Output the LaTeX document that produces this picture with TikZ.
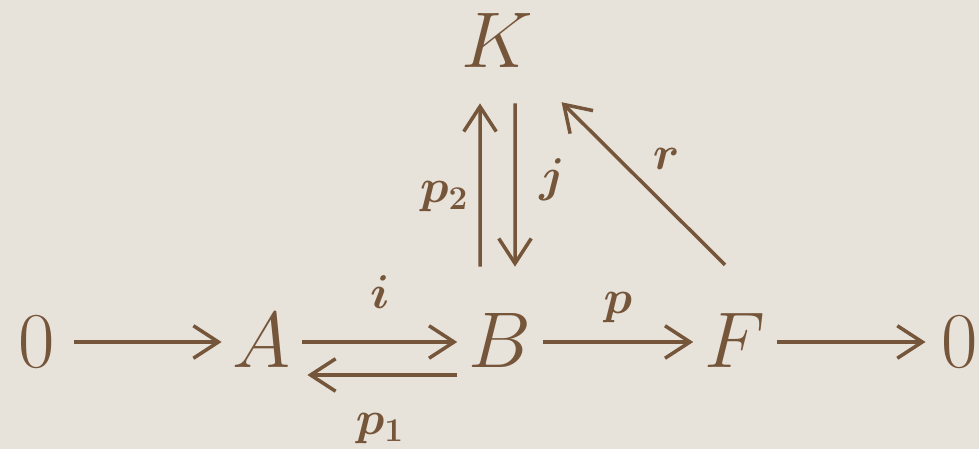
\documentclass[tikz,border=0pt]{standalone}
\usepackage{fix-cm}
\usepackage{bm}
\usetikzlibrary{arrows.meta}
\definecolor{paper}{HTML}{E7E2DA}
\definecolor{ink}{HTML}{76563A}
\begin{document}
\begin{tikzpicture}[
    obj/.style = {text=ink, font=\fontsize{45}{54}\selectfont, inner xsep=.22cm, inner ysep=.1cm, text height=1.3cm, text depth=.26cm},
    lbl/.style = {text=ink, font=\fontsize{27}{32}\selectfont, inner sep=0pt},
    arr/.style = {draw=ink, line width=2pt, -{Straight Barb[length=5mm,width=6.5mm]}}]
    \fill[paper] (0,0) rectangle (19.58,8.98);
    \useasboundingbox (0,0) rectangle (19.58,8.98);

    \node[obj] (zl) at (0.74,2.14) {$0$};
    \node[obj] (A) at (5.24,2.14) {$A$};
    \node[obj] (B) at (10.0,2.14) {$B$};
    \node[obj] (F) at (14.7,2.14) {$F$};
    \node[obj] (zr) at (19.2,2.14) {$0$};
    \node[obj] (K) at (9.94,8.14) {$K$};

    \draw[arr, shorten <=.15cm] (zl) -- (A);
    \draw[arr] (A) -- (B) node[lbl, midway, above=.64cm] {$\bm{i}$};
    \draw[arr, shorten >=.1cm] ([yshift=-.66cm]B.west) -- ([yshift=-.66cm]A.east)
        node[lbl, midway, below=.74cm] {$\bm{p_1}$};
    \draw[arr] (B) -- (F) node[lbl, midway, above=.36cm] {$\bm{p}$};
    \draw[arr, shorten >=.1cm] (F) -- (zr);
    \draw[arr, shorten <=.62cm, shorten >=.34cm] ([xshift=-.4cm]B.north) -- ([xshift=-.34cm]K.south)
        node[lbl, pos=.48, left=.2cm] {$\bm{p_2}$};
    \draw[arr, shorten <=.34cm, shorten >=.62cm] ([xshift=.36cm]K.south) -- ([xshift=.3cm]B.north)
        node[lbl, pos=.44, right=.45cm] {$\bm{j}$};
    \draw[arr, shorten <=.93cm, shorten >=.45cm] ([xshift=.46cm]F.north) -- ([xshift=.03cm]K.south east)
        node[lbl, pos=.55, above right=.2cm] {$\bm{r}$};
\end{tikzpicture}
\end{document}
